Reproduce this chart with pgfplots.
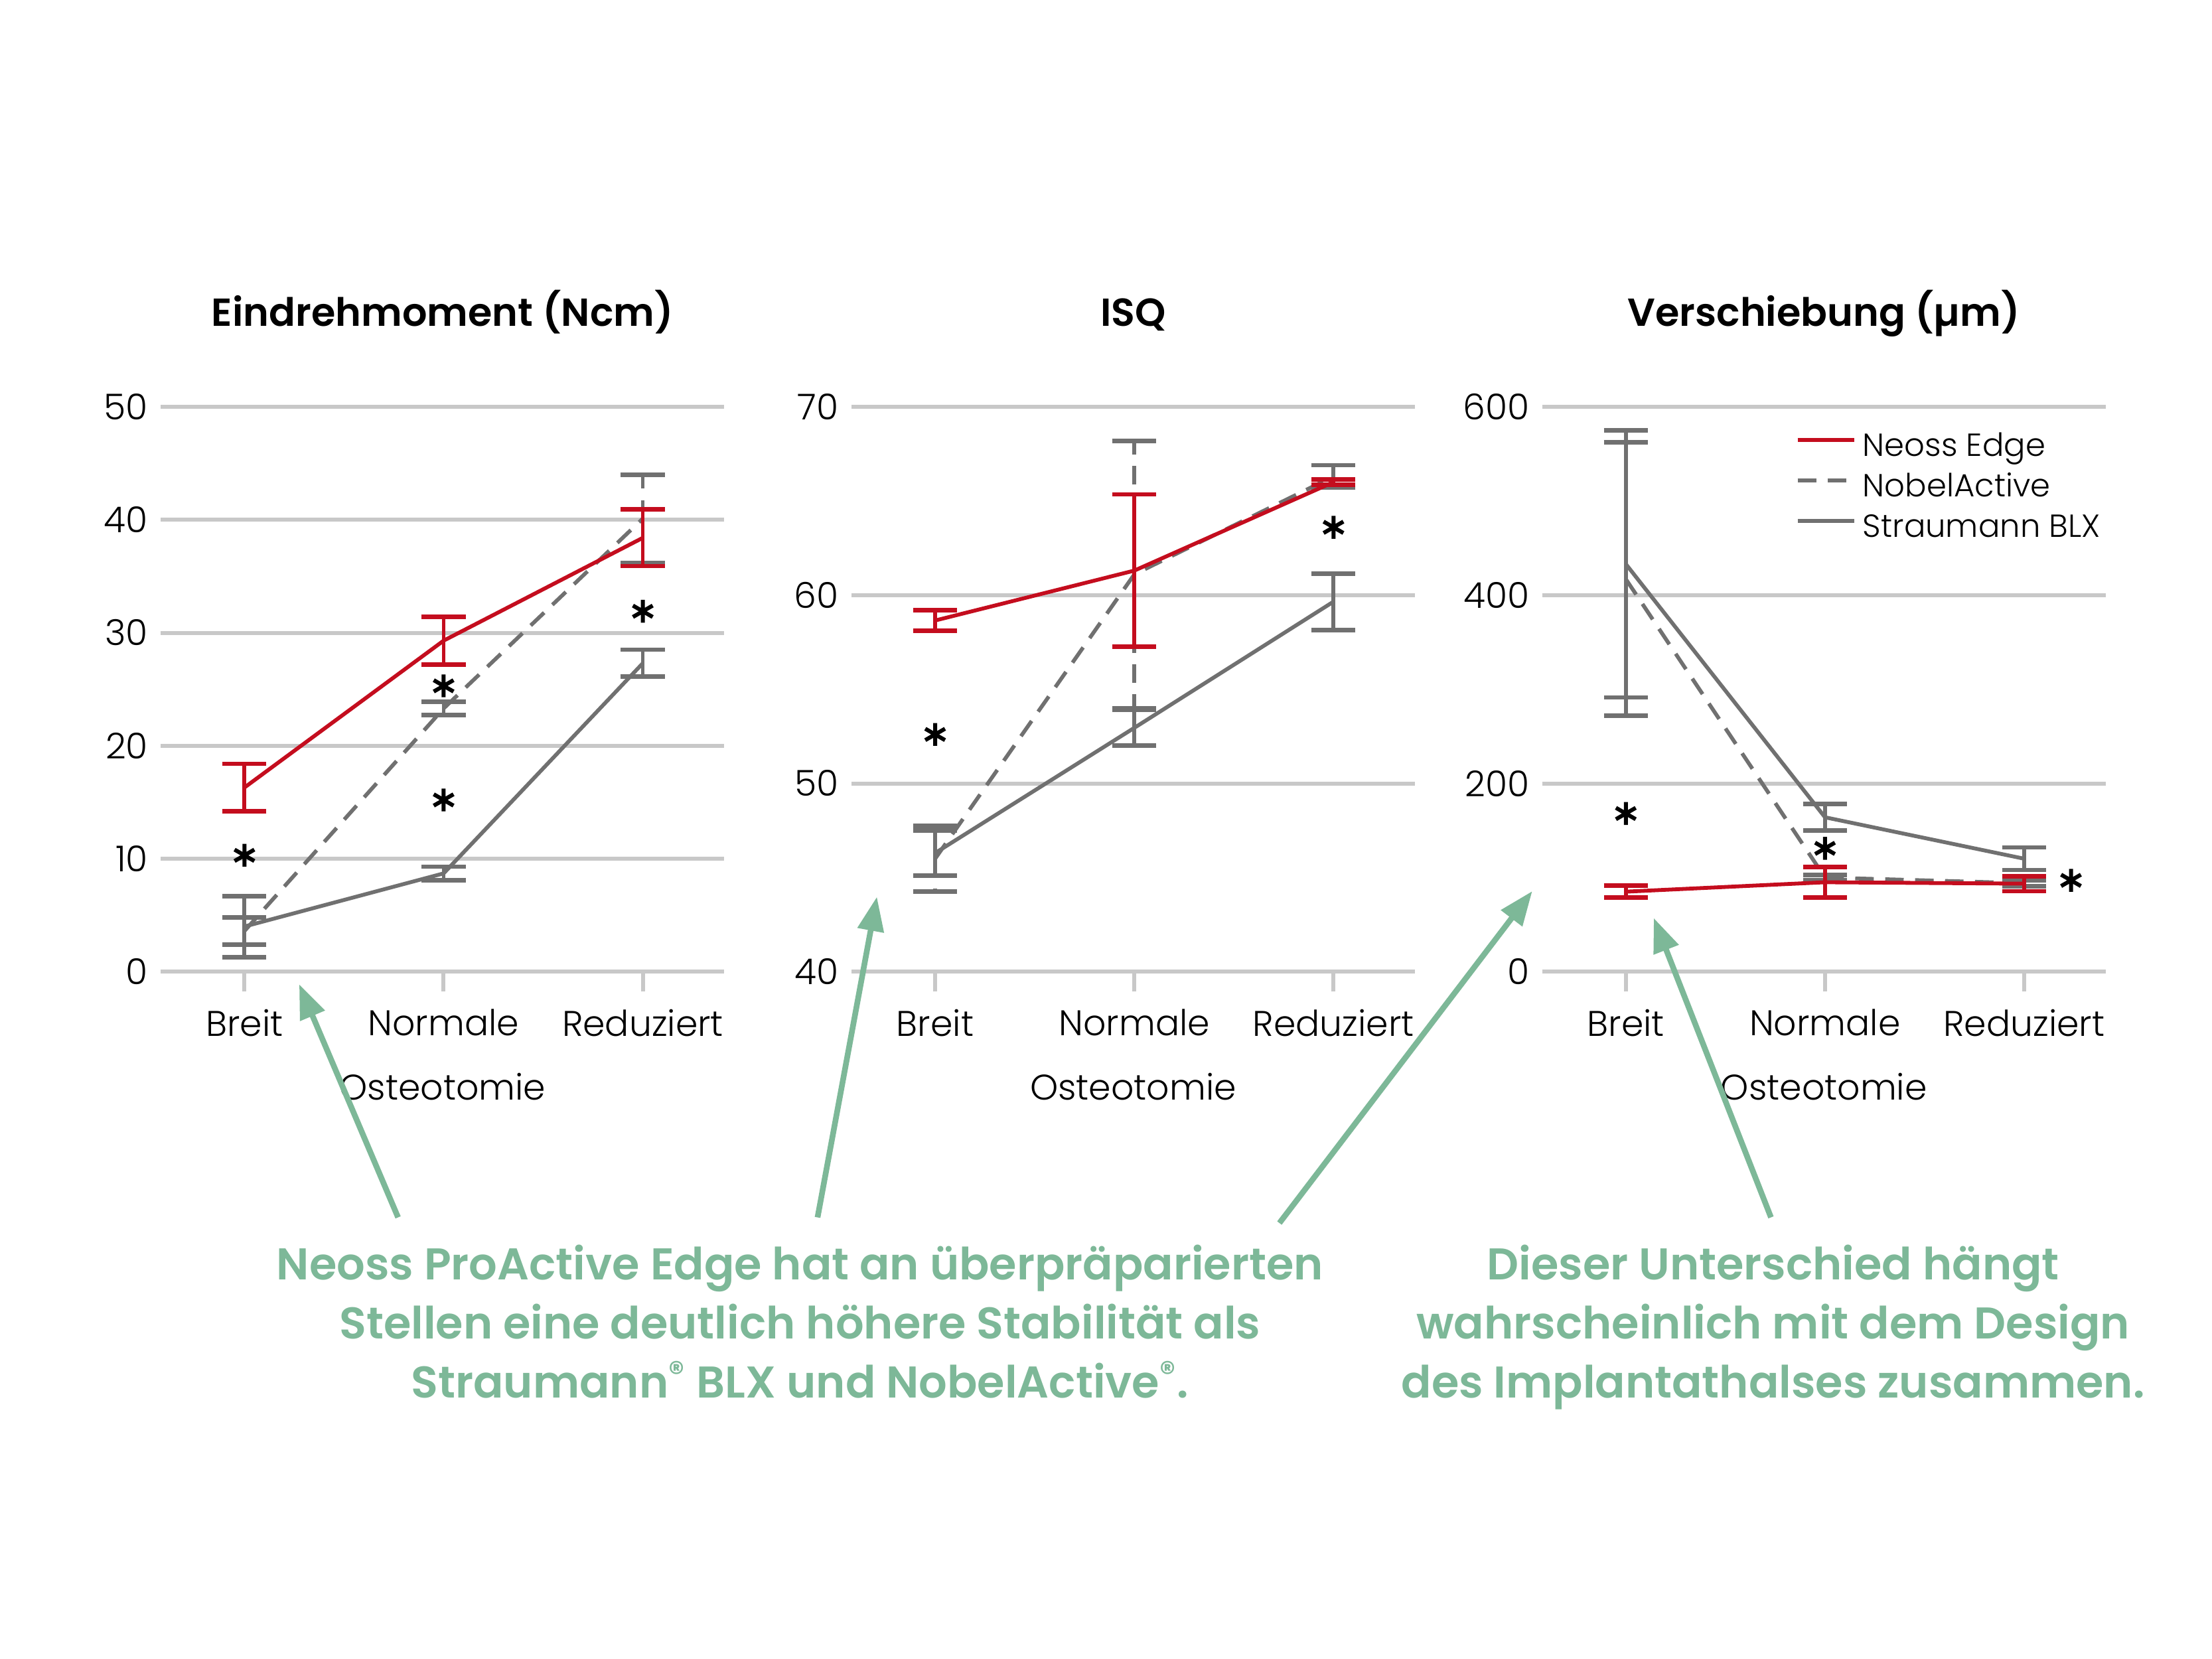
\documentclass[border=0pt]{standalone}
\usepackage{fontspec}
\setmainfont{Poppins}[UprightFont={* Light}, BoldFont={* SemiBold}]
\usepackage{pgfplots}
\pgfplotsset{compat=1.18}
\usetikzlibrary{arrows.meta}

\definecolor{neossred}{HTML}{C40D1E}
\definecolor{grau}{HTML}{707070}
\definecolor{gitter}{HTML}{C8C8C8}
\definecolor{gruen}{HTML}{7DB898}

\newcommand{\tickfont}{\fontsize{12.5bp}{15bp}\selectfont}
\newcommand{\titlefont}{\fontsize{13.7bp}{16bp}\selectfont\bfseries}
\newcommand{\notefont}{\fontsize{15.6bp}{21bp}\selectfont\bfseries}

\pgfplotsset{
  panel/.style={
    scale only axis, width=197.67bp, height=198.2bp,
    anchor=south west,
    xmin=-0.420, xmax=2.409,
    xtick={0,1,2}, xticklabels={Breit,Normale,Reduziert},
    axis line style={draw=none},
    ymajorgrids, grid style={gitter, line width=1.4bp},
    tick pos=left, tick align=outside, major tick length=7bp,
    major x tick style={gitter, line width=1.4bp},
    major y tick style={draw=none},
    tick label style={font=\tickfont, black},
    /pgf/number format/assume math mode=true,
    xticklabel style={yshift=-2.75bp},
    yticklabel style={xshift=6bp},
    clip=false,
  },
  neoss/.style={neossred, line width=1.35bp, mark=none,
    error bars/y dir=both, error bars/y explicit,
    error bars/error bar style={neossred, line width=1.35bp, solid},
    error bars/error mark options={rotate=90, neossred, line width=1.6bp, mark size=7.7bp, solid}},
  nobel/.style={grau, line width=1.35bp, mark=none, dash pattern=on 6.5bp off 4bp,
    error bars/y dir=both, error bars/y explicit,
    error bars/error bar style={grau, line width=1.35bp, dash pattern=on 6.5bp off 4bp},
    error bars/error mark options={rotate=90, grau, line width=1.6bp, mark size=7.7bp, solid}},
  straumann/.style={grau, line width=1.35bp, mark=none,
    error bars/y dir=both, error bars/y explicit,
    error bars/error bar style={grau, line width=1.35bp, solid},
    error bars/error mark options={rotate=90, grau, line width=1.6bp, mark size=7.7bp, solid}},
  sterne/.style={only marks, mark=asterisk, mark size=4bp,
    mark options={black, line width=1.4bp, solid}, forget plot},
}

\begin{document}
\begin{tikzpicture}
\path[use as bounding box] (0bp,0bp) rectangle (776bp,582bp);

% Eindrehmoment
\begin{axis}[panel, at={(56.41bp,241.08bp)}, ymin=0, ymax=50, ytick={0,10,...,50}]
\addplot[straumann] coordinates {(0,4.0) +- (0,2.7) (1,8.7) +- (0,0.6) (2,27.3) +- (0,1.2)};
\addplot[nobel] coordinates {(0,3.6) +- (0,1.2) (1,23.3) +- (0,0.6) (2,40.1) +- (0,3.9)};
\addplot[neoss] coordinates {(0,16.3) +- (0,2.1) (1,29.3) +- (0,2.1) (2,38.4) +- (0,2.5)};
\addplot[sterne] coordinates {(0,10.3) (1,25.3) (1,15.2) (2,31.9)};
\end{axis}

% ISQ
\begin{axis}[panel, at={(298.71bp,241.08bp)}, ymin=40, ymax=70, ytick={40,50,60,70}]
\addplot[straumann] coordinates {(0,46.3) +- (0,1.2) (1,52.95) +- (0,0.95) (2,59.65) +- (0,1.5)};
\addplot[nobel] coordinates {(0,46.0) +- (0,1.75) (1,61.1) +- (0,7.1) (2,66.3) +- (0,0.6)};
\addplot[neoss] coordinates {(0,58.65) +- (0,0.55) (1,61.3) +- (0,4.05) (2,66.0) +- (0,0.15)};
\addplot[sterne] coordinates {(0,52.6) (2,63.6)};
\end{axis}

% Verschiebung
\begin{axis}[panel, at={(541.01bp,241.08bp)}, ymin=0, ymax=600, ytick={0,200,400,600},
  legend style={at={(0.449,0.963)}, anchor=north west, draw=none, fill=none,
    font=\fontsize{11.2bp}{13bp}\selectfont, inner sep=0pt, row sep=0bp, column sep=1bp,
    nodes={inner sep=1.4bp, text height=8.4bp, text depth=3bp}},
  legend cell align=left,
  legend image code/.code={\draw[#1] (0bp,3bp) -- (19.8bp,3bp);},
  reverse legend]
\addplot[straumann] coordinates {(0,433) +- (0,141.7) (1,164) +- (0,14) (2,120) +- (0,12)};
\addlegendentry{Straumann BLX}
\addplot[nobel] coordinates {(0,417) +- (0,145) (1,100) +- (0,3) (2,94) +- (0,3)};
\addlegendentry{NobelActive}
\addplot[neoss] coordinates {(0,85) +- (0,6.5) (1,95) +- (0,16.5) (2,93.5) +- (0,8)};
\addlegendentry{Neoss Edge}
\addplot[sterne] coordinates {(0,168) (1,131) (2.235,97)};
\end{axis}

% texts and arrows, positions measured from the top left
\begin{scope}[x=0.49551bp, y=-0.49551bp, shift={(-0.58bp,582bp)}]
\node[anchor=base, font=\titlefont] at (314.5,231) {Eindrehmoment (Ncm)};
\node[anchor=base, font=\titlefont] at (803.5,231) {ISQ};
\node[anchor=base, font=\titlefont] at (1292.5,231) {Verschiebung (µm)};

\node[anchor=base, font=\tickfont] at (314.5,779) {Osteotomie};
\node[anchor=base, font=\tickfont] at (803.5,779) {Osteotomie};
\node[anchor=base, font=\tickfont] at (1292.5,779) {Osteotomie};

\begin{scope}[gruen, line width=2bp, -{Triangle[length=12bp, width=9bp]}]
\draw (283,862) -- (213,697);
\draw (580,862) -- (622,635);
\draw (907,866) -- (1086,631);
\draw (1255,862) -- (1172,650);
\end{scope}

\begin{scope}[every node/.style={anchor=base, font=\notefont, text=gruen}]
\node at (567.5,906) {Neoss ProActive Edge hat an überpräparierten};
\node at (567.5,948) {Stellen eine deutlich höhere Stabilität als};
\node at (567.5,990) {Straumann\textsuperscript{®} BLX und NobelActive\textsuperscript{®}.};
\node at (1256.5,906) {Dieser Unterschied hängt};
\node at (1256.5,948) {wahrscheinlich mit dem Design};
\node at (1256.5,990) {des Implantathalses zusammen.};
\end{scope}
\end{scope}
\end{tikzpicture}
\end{document}
